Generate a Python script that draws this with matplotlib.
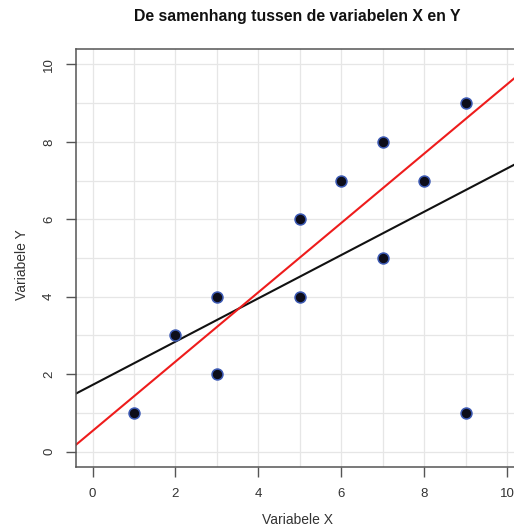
import matplotlib
matplotlib.use("Agg")
import matplotlib.pyplot as plt
import numpy as np

x_vals = [1, 2, 3, 3, 5, 5, 6, 7, 7, 8, 9, 9]
y_vals = [1, 3, 4, 2, 6, 4, 7, 8, 5, 7, 9, 1]
outlier_index = 11  # (9, 1) left out of the red fit
x_ticks = [0, 2, 4, 6, 8, 10]
y_ticks = [0, 2, 4, 6, 8, 10]
title = "De samenhang tussen de variabelen X en Y"
xlabel = "Variabele X"
ylabel = "Variabele Y"

plt.rcParams['font.family'] = ['Liberation Sans', 'DejaVu Sans']

W, H = 514, 528
fig = plt.figure(figsize=(W / 100, H / 100), dpi=100)
left, right, top, bottom = 76, 523.6, 49, 467
ax = fig.add_axes([left / W, 1 - bottom / H, (right - left) / W, (bottom - top) / H])

ax.set_xlim(-0.4, 10.4)
ax.set_ylim(-0.4, 10.4)

# grid every unit
ax.set_xticks(np.arange(0, 11, 1), minor=True)
ax.set_yticks(np.arange(0, 11, 1), minor=True)
ax.grid(True, which='both', color='#e6e6e6', linewidth=0.9)
ax.tick_params(which='minor', length=0)
ax.set_axisbelow(True)

xa = np.array(x_vals, dtype=float)
ya = np.array(y_vals, dtype=float)
xs = np.array([-0.4, 10.4])

# fit with all points (black)
b1, a1 = np.polyfit(xa, ya, 1)
ax.plot(xs, a1 + b1 * xs, color='#111111', linewidth=1.5, zorder=2)
# fit without outlier (red)
mask = np.ones(len(xa), dtype=bool)
mask[outlier_index] = False
b2, a2 = np.polyfit(xa[mask], ya[mask], 1)
ax.plot(xs, a2 + b2 * xs, color='#ee1c1c', linewidth=1.5, zorder=2)

ax.scatter(xa, ya, s=62, facecolor='#0d0d1a', edgecolor='#3d5bb5', linewidth=1.1, zorder=3)

ax.set_xticks(x_ticks)
ax.set_yticks(y_ticks)
ax.set_xticklabels([str(t) for t in x_ticks])
ax.set_yticklabels([str(t) for t in y_ticks], rotation=90, va='center')
ax.tick_params(which='major', direction='out', length=7, width=1, color='#555555',
               labelcolor='#333333', labelsize=9.5, pad=8)

for s in ax.spines.values():
    s.set_color('#555555')
    s.set_linewidth(1.1)

fig.text(297 / W, 1 - 17 / H, title, ha='center', va='center', fontsize=11.4,
         fontweight='bold', color='#111111')
fig.text(298 / W, 1 - 520 / H, xlabel, ha='center', va='center', fontsize=10, color='#333333')
fig.text(22 / W, 1 - 265 / H, ylabel, ha='center', va='center', fontsize=10,
         color='#333333', rotation=90)

fig.savefig("out.png", dpi=100)
